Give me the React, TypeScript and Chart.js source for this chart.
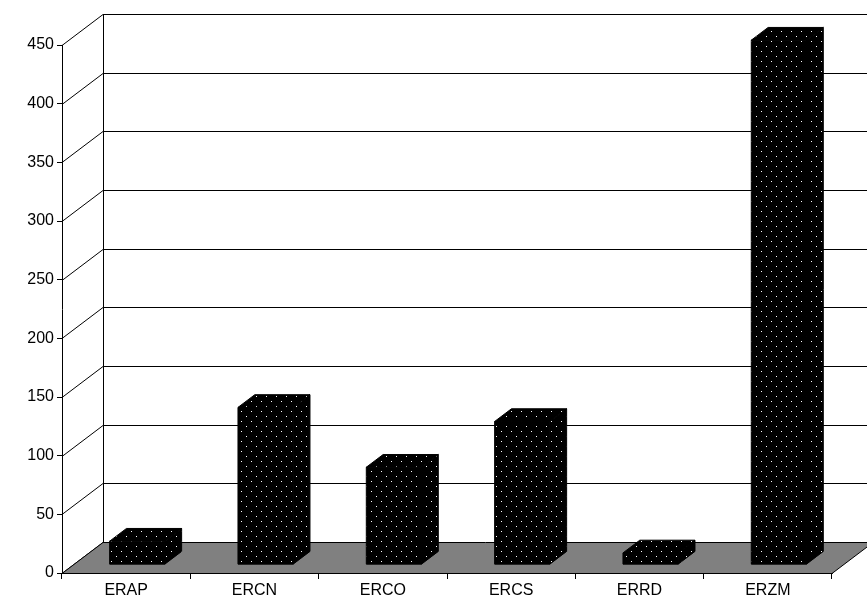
import React, { useEffect, useRef } from 'react';
import { Chart, registerables } from 'chart.js';

Chart.register(...registerables);

const categories = ['ERAP', 'ERCN', 'ERCO', 'ERCS', 'ERRD', 'ERZM'];
const values = [20, 134, 83, 122, 10, 447];
const yTicks = [0, 50, 100, 150, 200, 250, 300, 350, 400, 450];

const DX = 41; // depth offset of the back wall
const DY = -31;
const FRONT = 0.27; // depth of bar front face
const BACK = 0.68; // depth of bar back face

function makePattern(ctx: CanvasRenderingContext2D) {
  const c = document.createElement('canvas');
  c.width = 10;
  c.height = 10;
  const p = c.getContext('2d')!;
  p.fillStyle = '#000';
  p.fillRect(0, 0, 10, 10);
  p.fillStyle = '#fff';
  p.fillRect(1, 1, 1, 1);
  p.fillRect(6, 6, 1, 1);
  return ctx.createPattern(c, 'repeat')!;
}

const box3d = {
  id: 'box3d',
  beforeDatasetsDraw(chart: any) {
    const { ctx, chartArea: a, scales } = chart;
    const y = scales.y;
    ctx.save();
    ctx.strokeStyle = '#000';
    ctx.lineWidth = 1;
    // back wall grid + left wall diagonals
    yTicks.forEach((t) => {
      const py = Math.round(y.getPixelForValue(t)) + 0.5;
      ctx.beginPath();
      ctx.moveTo(a.left, py);
      ctx.lineTo(a.left + DX, py + DY);
      if (t > 0) ctx.lineTo(chart.width, py + DY);
      ctx.stroke();
    });
    ctx.beginPath();
    ctx.moveTo(a.left + DX + 0.5, y.getPixelForValue(450) + DY);
    ctx.lineTo(a.left + DX + 0.5, y.getPixelForValue(0) + DY);
    ctx.stroke();
    // floor
    const b = Math.round(y.getPixelForValue(0)) + 0.5;
    ctx.fillStyle = '#808080';
    ctx.beginPath();
    ctx.moveTo(a.left, b);
    ctx.lineTo(a.right, b);
    ctx.lineTo(a.right + DX, b + DY);
    ctx.lineTo(a.left + DX, b + DY);
    ctx.closePath();
    ctx.fill();
    ctx.stroke();
    ctx.restore();
  },
  afterDatasetsDraw(chart: any) {
    const { ctx } = chart;
    const pat = makePattern(ctx);
    const meta = chart.getDatasetMeta(0);
    ctx.save();
    ctx.strokeStyle = '#000';
    ctx.lineWidth = 1;
    ctx.fillStyle = pat;
    meta.data.forEach((el: any) => {
      const w = el.width;
      const x0 = el.x - w / 2 + FRONT * DX;
      const x1 = x0 + w;
      const yt = el.y + FRONT * DY;
      const yb = el.base + FRONT * DY;
      const ox = (BACK - FRONT) * DX;
      const oy = (BACK - FRONT) * DY;
      const face = (pts: number[][]) => {
        ctx.beginPath();
        pts.forEach(([px, py], i) => (i ? ctx.lineTo(px, py) : ctx.moveTo(px, py)));
        ctx.closePath();
        ctx.fill();
        ctx.stroke();
      };
      face([[x1, yt], [x1 + ox, yt + oy], [x1 + ox, yb + oy], [x1, yb]]);
      face([[x0, yt], [x1, yt], [x1 + ox, yt + oy], [x0 + ox, yt + oy]]);
      face([[x0, yt], [x1, yt], [x1, yb], [x0, yb]]);
    });
    ctx.restore();
  },
};

export default function App() {
  const ref = useRef<HTMLCanvasElement | null>(null);

  useEffect(() => {
    document.body.style.margin = '0';
    if (!ref.current) return;
    const chart = new Chart(ref.current, {
      type: 'bar',
      data: {
        labels: categories,
        datasets: [
          {
            data: values,
            backgroundColor: 'transparent',
            borderWidth: 0,
            barPercentage: 0.43,
            categoryPercentage: 1,
          },
        ],
      },
      options: {
        animation: false,
        responsive: false,
        layout: { padding: { top: 45, right: 35, left: 0, bottom: 0 } },
        plugins: { legend: { display: false }, tooltip: { enabled: false } },
        scales: {
          x: {
            grid: { drawOnChartArea: false, offset: true, tickLength: 6, color: '#000' },
            border: { color: '#000' },
            ticks: { color: '#000', font: { family: 'Liberation Sans, Arial', size: 16 }, padding: 2 },
            afterFit: (s: any) => { s.height = 37; },
          },
          y: {
            min: 0,
            max: 450,
            ticks: { stepSize: 50, color: '#000', font: { family: 'Liberation Sans, Arial', size: 16 }, padding: 3 },
            grid: { drawOnChartArea: false, tickLength: 5, color: '#000' },
            border: { color: '#000' },
            afterFit: (s: any) => { s.width = 62; },
          },
        },
      },
      plugins: [box3d],
    });
    return () => chart.destroy();
  }, []);

  return (
    <div style={{ width: 867, height: 610 }}>
      <canvas ref={ref} width={867} height={610}></canvas>
    </div>
  );
}
